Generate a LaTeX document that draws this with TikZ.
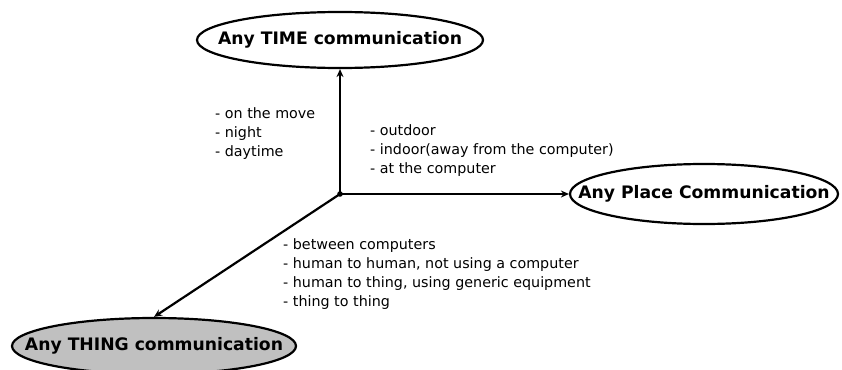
\documentclass[tikz,border=0pt]{standalone}
\usepackage{fontspec}
\setmainfont{DejaVu Sans}
\usetikzlibrary{shapes.geometric,arrows.meta}
\begin{document}
\begin{tikzpicture}[x=1pt,y=-1pt,
  goal/.style={draw=black,line width=2.2pt,ellipse,inner sep=0pt},
  gtext/.style={font=\fontsize{17.2}{20}\selectfont\bfseries},
  axis/.style={line width=2.2pt,-{Stealth[length=8pt,width=7pt]}},
  lst/.style={align=left,anchor=north west,inner sep=0pt,font=\fontsize{14.3}{19}\selectfont}]
\useasboundingbox (0,0) rectangle (842,369);
\coordinate (o) at (340,194);
\node[goal,minimum width=286pt,minimum height=56pt,label={[gtext]center:Any TIME communication}] (time) at (340,40) {};
\node[goal,minimum width=268pt,minimum height=60pt,label={[gtext]center:Any Place Communication}] (place) at (704,194) {};
\node[goal,fill={rgb,255:red,192;green,192;blue,192},minimum width=284pt,minimum height=56pt,label={[gtext]center:Any THING communication}] (thing) at (154,346) {};
\draw[axis] (o) -- (time);
\draw[axis] (o) -- (place);
\draw[axis] (o) -- (thing.north);
\fill (o) circle (2.8pt);
\node[lst] (tl) at (215,107) {- on the move\\- night\\- daytime};
\node[lst] (pl) at (370,124) {- outdoor\\- indoor(away from the computer)\\- at the computer};
\node[lst] (hl) at (283,238) {- between computers\\- human to human, not using a computer\\- human to thing, using generic equipment\\- thing to thing};
\end{tikzpicture}
\end{document}
